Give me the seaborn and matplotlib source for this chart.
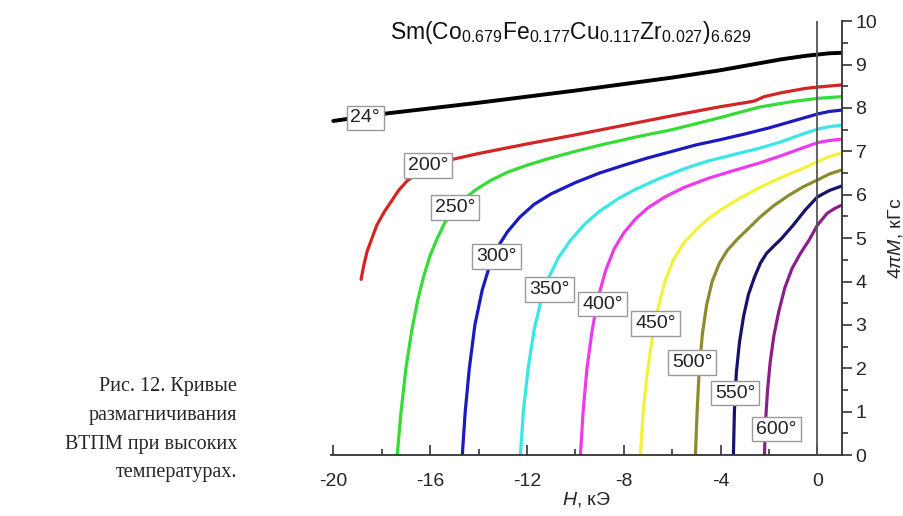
import numpy as np
import pandas as pd
import matplotlib
matplotlib.use('Agg')
import matplotlib.pyplot as plt
import seaborn as sns

# demagnetization curves: H (kOe), 4piM (kG)
temps = ['24', '200', '250', '300', '350', '400', '450', '500', '550', '600']
colors = ['#000000', '#d42424', '#35dc35', '#1a1ac0', '#3ae6e6', '#ee3aee',
          '#f2f23c', '#8c8c2e', '#14146e', '#8a1f8a']

H_24 = [-20.0, -18.0, -16.0, -14.0, -12.0, -10.0, -8.0, -6.0, -4.0, -2.5, -1.5, -0.5, 0.0, 0.5, 1.0]
M_24 = [7.70, 7.86, 7.99, 8.12, 8.26, 8.40, 8.55, 8.70, 8.87, 9.02, 9.12, 9.20, 9.23, 9.26, 9.27]

H_200 = [-18.85, -18.75, -18.6, -18.4, -18.2, -17.9, -17.6, -17.3, -16.95, -16.5, -16.0, -15.2, -14.0,
         -12.0, -10.0, -8.0, -6.0, -4.0, -3.0, -2.6, -2.2, -1.5, -0.5, 0.0, 1.0]
M_200 = [4.05, 4.35, 4.70, 5.00, 5.30, 5.60, 5.85, 6.10, 6.32, 6.50, 6.62, 6.80, 6.95,
         7.17, 7.38, 7.60, 7.82, 8.03, 8.12, 8.16, 8.26, 8.35, 8.45, 8.48, 8.53]

H_250 = [-17.36, -17.2, -17.0, -16.75, -16.5, -16.25, -16.0, -15.7, -15.4, -15.0, -14.6, -14.1, -13.5,
         -12.8, -12.0, -11.0, -10.0, -9.0, -7.5, -6.0, -4.0, -2.4, -1.0, 0.0, 1.0]
M_250 = [0.0, 1.0, 2.0, 2.9, 3.6, 4.15, 4.6, 5.0, 5.35, 5.65, 5.9, 6.12, 6.33,
         6.52, 6.68, 6.85, 7.0, 7.14, 7.33, 7.5, 7.78, 8.02, 8.15, 8.22, 8.26]

H_300 = [-14.67, -14.55, -14.38, -14.15, -13.85, -13.55, -13.2, -12.8, -12.3, -11.7, -11.0, -10.0,
         -9.0, -8.0, -7.0, -6.0, -5.0, -4.0, -3.0, -2.0, -1.0, 0.0, 0.5, 1.0]
M_300 = [0.0, 1.0, 2.0, 3.0, 3.8, 4.35, 4.8, 5.15, 5.48, 5.78, 6.02, 6.28,
         6.5, 6.68, 6.85, 7.0, 7.15, 7.27, 7.4, 7.54, 7.7, 7.86, 7.92, 7.95]

H_350 = [-12.27, -12.15, -11.95, -11.7, -11.4, -11.05, -10.7, -10.2, -9.6, -9.0, -8.2, -7.5, -6.5,
         -5.5, -4.5, -3.5, -2.4, -1.5, -0.5, 0.0, 0.5, 1.0]
M_350 = [0.0, 1.0, 2.0, 2.9, 3.6, 4.15, 4.55, 4.95, 5.33, 5.62, 5.92, 6.13, 6.38,
         6.6, 6.78, 6.92, 7.07, 7.22, 7.42, 7.51, 7.57, 7.6]

H_400 = [-9.79, -9.68, -9.52, -9.3, -9.05, -8.75, -8.4, -8.0, -7.5, -7.0, -6.3, -5.5, -4.5,
         -3.5, -2.4, -1.5, -0.5, 0.0, 0.5, 1.0]
M_400 = [0.0, 1.0, 2.0, 2.9, 3.65, 4.25, 4.75, 5.12, 5.45, 5.7, 5.95, 6.17, 6.38,
         6.55, 6.73, 6.9, 7.1, 7.2, 7.25, 7.28]

H_450 = [-7.31, -7.2, -7.05, -6.85, -6.6, -6.3, -5.95, -5.5, -5.0, -4.5, -4.0, -3.2, -2.4,
         -1.5, -0.5, 0.0, 0.5, 1.0]
M_450 = [0.0, 1.0, 1.8, 2.6, 3.35, 4.0, 4.5, 4.9, 5.2, 5.45, 5.65, 5.92, 6.16,
         6.4, 6.63, 6.76, 6.88, 6.96]

H_500 = [-5.04, -4.97, -4.88, -4.75, -4.58, -4.35, -4.05, -3.72, -3.3, -2.8, -2.36, -1.8, -1.2,
         -0.6, 0.0, 0.5, 1.0]
M_500 = [0.0, 1.0, 2.0, 2.8, 3.45, 4.0, 4.42, 4.72, 4.98, 5.25, 5.49, 5.75, 5.98,
         6.18, 6.34, 6.48, 6.57]

H_550 = [-3.47, -3.43, -3.35, -3.22, -3.05, -2.85, -2.6, -2.36, -2.1, -1.8, -1.5, -1.0, -0.5,
         0.0, 0.5, 1.0]
M_550 = [0.0, 1.0, 1.9, 2.6, 3.2, 3.7, 4.1, 4.42, 4.65, 4.82, 4.98, 5.3, 5.65,
         5.95, 6.1, 6.2]

H_600 = [-2.19, -2.14, -2.06, -1.95, -1.8, -1.6, -1.35, -1.05, -0.7, -0.35, 0.0, 0.4, 0.7, 1.0]
M_600 = [0.0, 0.8, 1.5, 2.15, 2.75, 3.3, 3.85, 4.3, 4.65, 4.95, 5.3, 5.57, 5.68, 5.76]

label_x = [-18.68, -16.07, -14.96, -13.26, -11.07, -8.88, -6.69, -5.17, -3.39, -1.69]
label_y = [7.77, 6.68, 5.71, 4.58, 3.82, 3.48, 3.04, 2.14, 1.43, 0.60]

H_all = [H_24, H_200, H_250, H_300, H_350, H_400, H_450, H_500, H_550, H_600]
M_all = [M_24, M_200, M_250, M_300, M_350, M_400, M_450, M_500, M_550, M_600]

sns.set_style('white')
plt.rcParams['font.family'] = ['Liberation Sans', 'DejaVu Sans']
plt.rcParams['mathtext.fontset'] = 'custom'
plt.rcParams['mathtext.rm'] = 'Liberation Sans'
plt.rcParams['mathtext.it'] = 'Liberation Sans:italic'
plt.rcParams['axes.unicode_minus'] = False

fig = plt.figure(figsize=(9.04, 5.16), dpi=100)
ax = fig.add_axes([0.366, 0.118, 0.565, 0.841])

frames = []
for t, h, m in zip(temps, H_all, M_all):
    frames.append(pd.DataFrame({'H': h, 'M': m, 'T': t}))
df = pd.concat(frames, ignore_index=True)

sns.lineplot(data=df, x='H', y='M', hue='T', hue_order=temps,
             palette=dict(zip(temps, colors)), estimator=None, sort=False,
             lw=2.3, legend=False, ax=ax)
ax.lines[0].set_linewidth(2.8)
for ln in ax.lines:
    ln.set_solid_joinstyle('round')

ax.axvline(0, color='#555555', lw=1.3, zorder=3)

for t, x, y in zip(temps, label_x, label_y):
    ax.text(x, y, t + '°', ha='center', va='center', fontsize=14, color='#222222',
            bbox=dict(boxstyle='square,pad=0.2', fc='white', ec='#999999', lw=1),
            zorder=5)

ax.text(-10.2, 9.75, r'Sm(Co$_{0.679}$Fe$_{0.177}$Cu$_{0.117}$Zr$_{0.027}$)$_{6.629}$',
        ha='center', va='center', fontsize=16.5, color='#111111')

ax.set_xlim(-20.1, 1.0)
ax.set_ylim(0, 10)
ax.set_xticks([-20, -16, -12, -8, -4, 0])
ax.set_xticks([-18, -14, -10, -6, -2], minor=True)
ax.set_yticks(range(0, 11))
ax.set_yticks(np.arange(0.5, 10, 1.0), minor=True)

ax.yaxis.tick_right()
ax.yaxis.set_label_position('right')
for s in ['left', 'top']:
    ax.spines[s].set_visible(False)
for s in ['right', 'bottom']:
    ax.spines[s].set_color('#333333')
    ax.spines[s].set_linewidth(1.3)

ax.tick_params(axis='x', which='both', bottom=True, top=False)
ax.tick_params(axis='x', which='major', direction='in', length=7, width=1.2,
               color='#333333', labelsize=14, pad=13)
ax.tick_params(axis='x', which='minor', direction='in', length=4, width=1.2, color='#333333')
ax.tick_params(axis='y', which='both', right=True, left=False)
ax.tick_params(axis='y', which='major', direction='out', length=7, width=1.2,
               color='#333333', labelsize=14, pad=3)
ax.tick_params(axis='y', which='minor', direction='out', length=4, width=1.2, color='#333333')

ax.set_xlabel(r'$H$, кЭ', fontsize=14, labelpad=0)
ax.set_ylabel(r'4$\pi M$, кГс', fontsize=14, labelpad=6)
ax.grid(False)

fig.text(237 / 904, 1 - 377 / 516,
         'Рис. 12. Кривые\nразмагничивания\nВТПМ при высоких\nтемпературах.',
         ha='right', va='top', multialignment='right', fontsize=14.5,
         family=['Liberation Serif', 'DejaVu Serif'], linespacing=1.7)

fig.savefig('out.png', dpi=100)
